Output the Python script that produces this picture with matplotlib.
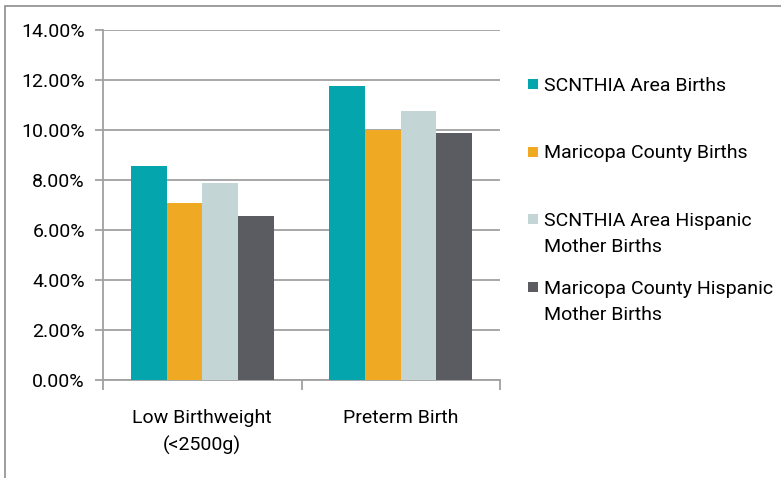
import matplotlib.pyplot as plt
from matplotlib.patches import Rectangle
from matplotlib.ticker import FuncFormatter
import numpy as np

categories = ["Low Birthweight\n(<2500g)", "Preterm Birth"]
series_names = ["SCNTHIA Area Births", "Maricopa County Births",
                "SCNTHIA Area Hispanic\nMother Births",
                "Maricopa County Hispanic\nMother Births"]
scnthia = [8.56, 11.77]
maricopa = [7.09, 10.00]
scnthia_hisp = [7.90, 10.78]
maricopa_hisp = [6.56, 9.87]

colors = ["#05A5AD", "#F0A922", "#C3D5D5", "#5B5C61"]
plt.rcParams["font.family"] = ["Roboto", "DejaVu Sans"]

W, H = 781, 478
fig = plt.figure(figsize=(W / 100, H / 100), dpi=100)
ax = fig.add_axes([103 / W, 1 - 380 / H, 397 / W, 350 / H])

# outer chart frame
fig.patches.append(Rectangle((5 / W, -0.05), 1.2, 1 - 6 / H + 0.05,
                             transform=fig.transFigure, fill=False,
                             edgecolor="#8C8C8C", linewidth=1.2))

x = np.arange(len(categories))
width = 0.18
values = [scnthia, maricopa, scnthia_hisp, maricopa_hisp]
for i, vals in enumerate(values):
    ax.bar(x + (i - 1.5) * width, vals, width, color=colors[i],
           label=series_names[i], zorder=3)

ax.set_ylim(0, 14)
ax.set_xlim(-0.5, 1.5)
ax.set_yticks(np.arange(0, 14.01, 2))
ax.yaxis.set_major_formatter(FuncFormatter(lambda v, p: f"{v:.2f}%"))
ax.grid(axis="y", color="#A0A0A0", linewidth=1.3, zorder=0)
ax.set_xticks(x)
ax.set_xticklabels(categories, fontsize=14, linespacing=1.6)
ax.set_xticks([-0.5, 0.5, 1.5], minor=True)
ax.tick_params(axis="x", which="major", length=0, pad=21)
ax.tick_params(axis="x", which="minor", length=7, color="#A0A0A0", width=1.3)
ax.tick_params(axis="y", length=6, color="#A0A0A0", width=1.3,
               labelsize=14, pad=7)
for s in ["top", "right"]:
    ax.spines[s].set_visible(False)
for s in ["left", "bottom"]:
    ax.spines[s].set_color("#A0A0A0")
    ax.spines[s].set_linewidth(1.3)

# legend drawn by hand: square marker next to the first line of each label
for i, name in enumerate(series_names):
    yc = 84 + i * 67.5
    fig.patches.append(Rectangle((528 / W, 1 - (yc + 5) / H), 10 / W, 10 / H,
                                 transform=fig.transFigure,
                                 facecolor=colors[i], edgecolor="none"))
    fig.text(544 / W, 1 - (yc - 7) / H, name, fontsize=14, va="top",
             ha="left", linespacing=1.6)

fig.savefig("out.png", dpi=100)
